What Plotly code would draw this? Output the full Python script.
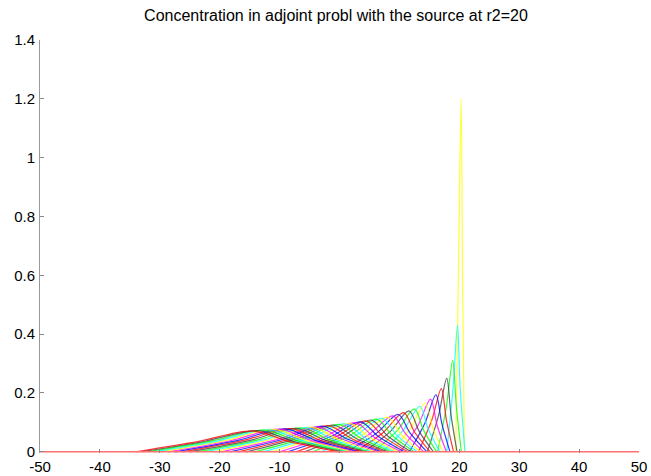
import plotly.graph_objects as go

# Values, one entry per curve (right-most curve first)
peak_x = [20.3, 19.7, 18.9, 17.9, 17.0, 16.1, 15.2, 14.3, 13.4, 12.5,
          11.6, 10.7, 9.8, 8.9, 8.0, 7.1, 6.2, 5.3, 4.4, 3.5,
          2.6, 1.7, 0.8, -0.1, -1.0, -1.9, -2.8, -3.7, -4.6, -5.5,
          -6.4, -7.3, -8.2, -9.1, -10.0, -10.9, -11.8, -12.7, -13.6, -14.5]
peak_y = [1.20, 0.43, 0.31, 0.25, 0.215, 0.194, 0.179, 0.166, 0.155, 0.146,
          0.139, 0.133, 0.127, 0.122, 0.118, 0.114, 0.111, 0.108, 0.105, 0.102,
          0.099, 0.097, 0.095, 0.093, 0.091, 0.089, 0.087, 0.085, 0.084, 0.082,
          0.081, 0.080, 0.079, 0.078, 0.077, 0.076, 0.075, 0.074, 0.072, 0.071]
half_left_x = [19.85, 18.95, 17.85, 16.55, 15.4, 14.25, 13.1, 11.95, 10.8, 9.65,
               8.5, 7.35, 6.2, 5.05, 3.95, 2.85, 1.75, 0.65, -0.45, -1.55,
               -2.65, -3.75, -4.85, -5.95, -7.05, -8.15, -9.25, -10.35, -11.45, -12.55,
               -13.65, -14.75, -15.85, -16.95, -18.05, -19.15, -20.25, -21.35, -22.45, -23.5]
half_right_x = [20.55, 20.15, 19.5, 18.62, 17.85, 17.08, 16.3, 15.55, 14.8, 14.05,
                13.3, 12.55, 11.8, 11.05, 10.3, 9.55, 8.8, 8.05, 7.3, 6.55,
                5.8, 5.05, 4.3, 3.55, 2.8, 2.05, 1.3, 0.55, -0.2, -0.95,
                -1.7, -2.45, -3.2, -3.95, -4.7, -5.45, -6.2, -6.95, -7.7, -8.5]
foot_left_x = [19.4, 17.9, 16.38, 14.66, 13.16, 11.66, 10.16, 8.66, 7.16, 5.66,
               4.16, 2.66, 1.16, -0.34, -1.72, -3.1, -4.48, -5.86, -7.24, -8.62,
               -10.0, -11.38, -12.76, -14.14, -15.52, -16.9, -18.28, -19.66, -21.04, -22.42,
               -23.8, -25.0, -26.2, -27.4, -28.6, -29.8, -31.0, -32.0, -33.0, -34.0]
foot_right_x = [20.85, 20.95, 20.34, 19.63, 19.04, 18.45, 17.84, 17.3, 16.76, 16.22,
                15.68, 15.14, 14.6, 14.06, 13.52, 12.98, 12.44, 11.9, 11.36, 10.82,
                10.28, 9.74, 9.2, 8.66, 8.12, 7.58, 7.04, 6.5, 5.96, 5.42,
                4.88, 4.34, 3.8, 3.26, 2.72, 2.18, 1.64, 1.1, 0.56, -0.1]

# zero level of the solution over the whole domain
domain_x = [-50, 50]
domain_y = [0, 0]

x_ticks = [-50, -40, -30, -20, -10, 0, 10, 20, 30, 40, 50]
x_tick_text = ["-50", "-40", "-30", "-20", "-10", "0", "10", "20", "30", "40", "50"]
y_ticks = [0, 0.2, 0.4, 0.6, 0.8, 1.0, 1.2, 1.4]
y_tick_text = ["0", "0.2", "0.4", "0.6", "0.8", "1", "1.2", "1.4"]
title_text = "Concentration in adjoint probl with the source at r2=20"

colors = ["#ffff00", "#00ffff", "#00ff00", "#404040", "#ff0000", "#0000ff", "#ff00ff"]

fig = go.Figure()
for i in range(len(peak_x)):
    h = peak_y[i]
    xs = [foot_left_x[i], half_left_x[i], peak_x[i], half_right_x[i], foot_right_x[i]]
    ys = [0, h / 2, h, h / 2, 0]
    fig.add_trace(go.Scatter(
        x=xs, y=ys, mode="lines",
        line=dict(color=colors[i % len(colors)], width=1.2, shape="spline", smoothing=0.9),
        opacity=0.78, hoverinfo="skip", showlegend=False,
    ))

fig.add_trace(go.Scatter(
    x=domain_x, y=domain_y, mode="lines",
    line=dict(color="#ff7070", width=1.5), hoverinfo="skip", showlegend=False,
))

font_family = "Liberation Sans, Arial, sans-serif"
fig.update_layout(
    width=651, height=476,
    margin=dict(l=40, r=12, t=40, b=23, autoexpand=False),
    paper_bgcolor="white", plot_bgcolor="white",
    font=dict(family=font_family, size=15, color="black"),
    title=dict(text=title_text, x=336 / 651, xref="container", xanchor="center",
               y=1 - 15 / 476, yanchor="middle", font=dict(size=16, family=font_family)),
)
fig.update_xaxes(
    range=[-50, 50], tickvals=x_ticks, ticktext=x_tick_text, ticks="inside", ticklen=4,
    tickcolor="#888888", tickwidth=1, showline=False, showgrid=False, zeroline=False,
    tickfont=dict(size=15), ticklabelstandoff=3, automargin=False,
)
fig.update_yaxes(
    range=[-0.004, 1.4], tickvals=y_ticks, ticktext=y_tick_text, ticks="inside", ticklen=4,
    tickcolor="#888888", tickwidth=1, showline=True, linecolor="#999999", linewidth=1,
    showgrid=False, zeroline=False, tickfont=dict(size=15), automargin=False,
    ticklabelstandoff=1,
)

fig.write_html("out.html")
